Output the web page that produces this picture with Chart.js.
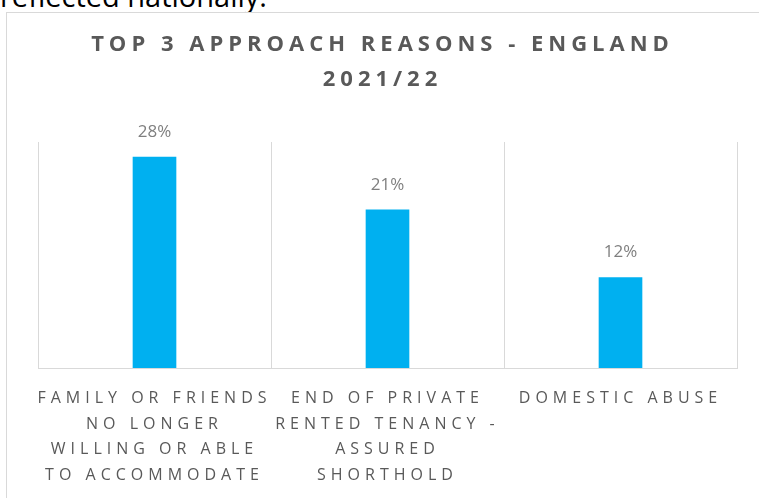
<!DOCTYPE html>
<html lang="en">
<head>
    <meta charset="UTF-8">
    <title>Top 3 Approach Reasons - England 2021/22</title>
    <script src="https://cdn.jsdelivr.net/npm/chart.js"></script>
    <style>
        body { margin: 0; background: #fff; width: 759px; height: 498px; overflow: hidden; position: relative; font-family: 'Open Sans', sans-serif; }
        #lead { position: absolute; left: 0; top: -24px; font-size: 29px; color: #000; white-space: nowrap; }
        #box { position: absolute; left: 6px; top: 12px; width: 752px; height: 485px; border: 1px solid #d9d9d9; background: #fff; }
        canvas { display: block; }
    </style>
</head>
<body>
    <div id="lead">reflected nationally.</div>
    <div id="box"><canvas id="myChart" width="752" height="485"></canvas></div>

    <script>
        // chart data
        const titleLines = ['TOP 3 APPROACH REASONS - ENGLAND', '2021/22'];
        const categories = [
            ['FAMILY OR FRIENDS', 'NO LONGER', 'WILLING OR ABLE', 'TO ACCOMMODATE'],
            ['END OF PRIVATE', 'RENTED TENANCY -', 'ASSURED', 'SHORTHOLD'],
            ['DOMESTIC ABUSE']
        ];
        const shares = [28, 21, 12];

        // letter spacing: title first, value labels none, axis labels after datasets
        const spacingPlugin = {
            id: 'spacing',
            beforeDraw(chart) {
                chart.ctx.letterSpacing = '5px';
            },
            afterDatasetsDraw(chart) {
                const ctx = chart.ctx;
                ctx.save();
                ctx.letterSpacing = '0px';
                ctx.font = '17px "Open Sans"';
                ctx.fillStyle = '#7f7f7f';
                ctx.textAlign = 'center';
                ctx.textBaseline = 'middle';
                chart.getDatasetMeta(0).data.forEach((bar, i) => {
                    ctx.fillText(shares[i] + '%', bar.x, bar.y - 25);
                });
                ctx.restore();
                ctx.letterSpacing = '2.8px';
            }
        };

        const ctx = document.getElementById('myChart').getContext('2d');
        const myChart = new Chart(ctx, {
            type: 'bar',
            data: {
                labels: categories,
                datasets: [{
                    data: shares,
                    backgroundColor: '#00b0f0',
                    barThickness: 43
                }]
            },
            options: {
                responsive: false,
                animation: false,
                layout: { padding: { left: 21, right: 22, top: 0, bottom: 0 } },
                plugins: {
                    legend: { display: false },
                    tooltip: { enabled: false },
                    title: {
                        display: true,
                        text: titleLines,
                        color: '#595959',
                        font: { family: 'Open Sans', size: 22, weight: 'bold', lineHeight: '35px' },
                        padding: { top: 14, bottom: 45 }
                    }
                },
                scales: {
                    x: {
                        z: 1,
                        grid: { color: '#d9d9d9', drawTicks: false, offset: true },
                        border: { color: '#d9d9d9' },
                        ticks: {
                            color: '#595959',
                            padding: 18,
                            maxRotation: 0,
                            autoSkip: false,
                            font: { family: 'Open Sans', size: 16, lineHeight: '25.5px' }
                        },
                        afterFit(scale) { scale.height = 130; }
                    },
                    y: {
                        min: 0,
                        max: 30,
                        grid: { display: false },
                        border: { display: false },
                        ticks: { display: false },
                        afterFit(scale) { scale.width = 10; }
                    }
                }
            },
            plugins: [spacingPlugin]
        });
    </script>
</body>
</html>
